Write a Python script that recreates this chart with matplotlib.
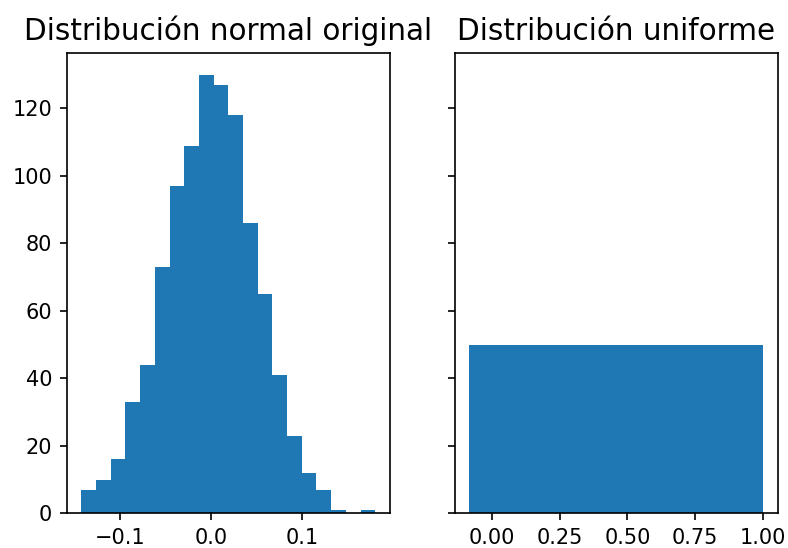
import matplotlib
matplotlib.use("Agg")
import matplotlib.pyplot as plt
import numpy as np

# Left panel: histogram of the original normal data (20 bins)
normal_bin_start = -0.143
normal_bin_end = 0.1805
normal_counts = [7, 10, 16, 33, 44, 73, 97, 109, 130, 127,
                 118, 86, 65, 41, 23, 12, 7, 1, 0, 1]

# Right panel: the "uniform" histogram shows a single flat block
uniform_edges = [-0.083, 1.0]
uniform_counts = [50]

titles = ["Distribución normal original", "Distribución uniforme"]

normal_edges = np.linspace(normal_bin_start, normal_bin_end, len(normal_counts) + 1)
normal_centers = (normal_edges[:-1] + normal_edges[1:]) / 2
uniform_centers = [(uniform_edges[0] + uniform_edges[1]) / 2]

DPI = 150
fig, axes = plt.subplots(1, 2, sharey=True, figsize=(788 / DPI, 548 / DPI), dpi=DPI)
fig.subplots_adjust(left=0.0846, right=0.987, bottom=0.0633, top=0.9038, wspace=0.2)

axes[0].hist(normal_centers, bins=normal_edges, weights=normal_counts)
axes[0].set_title(titles[0], fontsize=14.2)

axes[1].hist(uniform_centers, bins=uniform_edges, weights=uniform_counts)
axes[1].set_title(titles[1], fontsize=14.2)
axes[1].set_xticks([0.0, 0.25, 0.5, 0.75, 1.0])

plt.savefig("out.png", dpi=DPI)
plt.close()
